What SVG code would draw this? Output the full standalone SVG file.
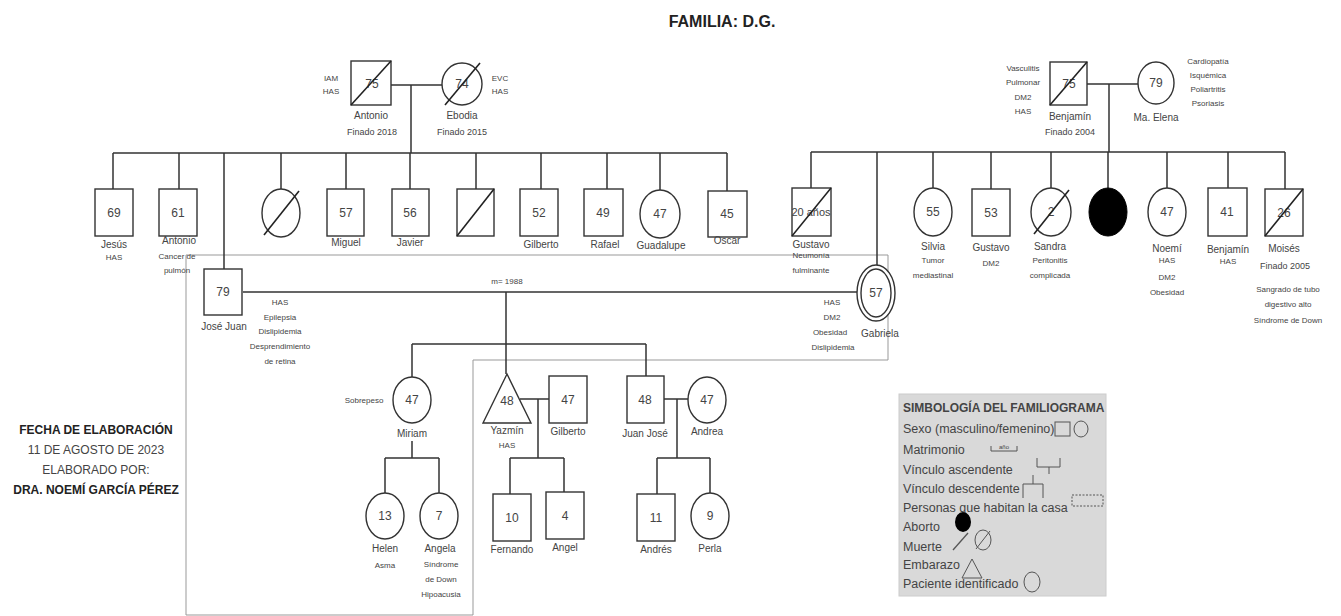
<svg xmlns="http://www.w3.org/2000/svg" width="1341" height="616" viewBox="0 0 1341 616">
<style>
.s{fill:#fff;stroke:#333;stroke-width:1.4}
.d{stroke:#222;stroke-width:1.6;fill:none}
.c{stroke:#333;stroke-width:1.5;fill:none}
.h{stroke:#999;stroke-width:1;fill:none}
text{font-family:"Liberation Sans Narrow","Liberation Sans",Arial,sans-serif;fill:#444;text-anchor:middle}
.n{font-size:12px}
.l{font-size:10px}
.x{font-size:8px}
.b{font-weight:bold;fill:#222}
.lg{font-size:12.5px;text-anchor:start;fill:#444}
</style>
<rect width="1341" height="616" fill="#fff"/>
<text x="722" y="27" class="b" style="font-size:16px">FAMILIA: D.G.</text>

<g id="household">
<path class="h" d="M186,255 H888 V360 H473 V615 H186 Z"/>
</g>

<g id="connectors">
<path class="c" d="M391,85 H442 M411,85 V153 M113,153 H727 M113,153 V189 M179,153 V189 M224,153 V270 M281,153 V189 M346,153 V189 M410,153 V189 M476,153 V189 M541,153 V189 M607,153 V189 M660,153 V190 M727,153 V191"/>
<path class="c" d="M1087,84 H1138 M1109,84 V152 M811,152 H1285 M811,152 V188 M877,152 V265 M933,152 V188 M991,152 V189 M1051,152 V188 M1108,152 V188 M1167,152 V188 M1228,152 V188 M1285,152 V189"/>
<path class="c" d="M243,292 H857 M506,292 V344 M412,344 H646 M412,344 V377 M506,344 V374 M646,344 V376"/>
<path class="c" d="M412,441 V458 M385,458 H439 M385,458 V493 M439,458 V493"/>
<path class="c" d="M520,399 H549 M538,399 V458 M510,458 H564 M510,458 V494 M564,458 V492"/>
<path class="c" d="M664,399 H688 M677,399 V458 M657,458 H710 M657,458 V494 M710,458 V493"/>
</g>

<g id="antonio-sr">
<rect class="s" x="351" y="61" width="40" height="44"/>
<text x="372" y="88" class="n">75</text>
<line class="d" x1="351" y1="105" x2="391" y2="61"/>
<text x="331" y="81" class="x">IAM</text><text x="331" y="94" class="x">HAS</text>
<text x="371" y="119" class="l">Antonio</text><text x="372" y="135" class="x" style="font-size:9px">Finado 2018</text>
</g>
<g id="ebodia">
<ellipse class="s" cx="462" cy="84" rx="20" ry="21"/>
<text x="462" y="88" class="n">74</text>
<line class="d" x1="445" y1="105" x2="480" y2="63"/>
<text x="500" y="81" class="x">EVC</text><text x="500" y="94" class="x">HAS</text>
<text x="462" y="119" class="l">Ebodia</text><text x="462" y="135" class="x" style="font-size:9px">Finado 2015</text>
</g>

<g id="jesus"><rect class="s" x="95" y="189" width="38" height="47"/><text x="114" y="217" class="n">69</text><text x="114" y="248" class="l">Jesús</text><text x="114" y="260" class="x">HAS</text></g>
<g id="antonio"><rect class="s" x="159" y="189" width="38" height="47"/><text x="178" y="217" class="n">61</text><text x="179" y="244" class="l">Antonio</text><text x="177" y="259" class="x">Cancer de</text><text x="177" y="273" class="x">pulmón</text></g>
<g id="fallecida"><ellipse class="s" cx="281" cy="213" rx="19" ry="24"/><line class="d" x1="264" y1="235" x2="299" y2="191"/></g>
<g id="miguel"><rect class="s" x="327" y="189" width="37" height="47"/><text x="346" y="217" class="n">57</text><text x="346" y="246" class="l">Miguel</text></g>
<g id="javier"><rect class="s" x="392" y="189" width="37" height="47"/><text x="410" y="217" class="n">56</text><text x="410" y="246" class="l">Javier</text></g>
<g id="fallecido"><rect class="s" x="457" y="189" width="37" height="47"/><line class="d" x1="457" y1="236" x2="494" y2="189"/></g>
<g id="gilberto"><rect class="s" x="520" y="189" width="38" height="47"/><text x="539" y="217" class="n">52</text><text x="541" y="248" class="l">Gilberto</text></g>
<g id="rafael"><rect class="s" x="584" y="189" width="39" height="47"/><text x="603" y="217" class="n">49</text><text x="605" y="248" class="l">Rafael</text></g>
<g id="guadalupe"><ellipse class="s" cx="660" cy="214" rx="20" ry="24"/><text x="660" y="218" class="n">47</text><text x="661" y="249" class="l">Guadalupe</text></g>
<g id="oscar"><rect class="s" x="708" y="191" width="39" height="46"/><text x="727" y="218" class="n">45</text><text x="727" y="244" class="l">Oscar</text></g>

<g id="benjamin-sr">
<rect class="s" x="1050" y="62" width="37" height="43"/>
<text x="1069" y="88" class="n">75</text>
<line class="d" x1="1050" y1="105" x2="1087" y2="62"/>
<text x="1023" y="71" class="x">Vasculitis</text><text x="1023" y="85" class="x">Pulmonar</text><text x="1023" y="100" class="x">DM2</text><text x="1023" y="114" class="x">HAS</text>
<text x="1070" y="120" class="l">Benjamín</text><text x="1070" y="135" class="x" style="font-size:9px">Finado 2004</text>
</g>
<g id="ma-elena">
<ellipse class="s" cx="1156" cy="83" rx="18" ry="21"/>
<text x="1156" y="87" class="n">79</text>
<text x="1156" y="121" class="l">Ma. Elena</text>
<text x="1208" y="64" class="x">Cardiopatía</text><text x="1208" y="78" class="x">Isquémica</text><text x="1208" y="92" class="x">Poliartritis</text><text x="1208" y="106" class="x">Psoriasis</text>
</g>

<g id="gustavo-f"><rect class="s" x="792" y="188" width="39" height="48"/><text x="811" y="216" class="n" style="font-size:11px">20 años</text><line class="d" x1="792" y1="236" x2="831" y2="188"/><text x="811" y="248" class="l">Gustavo</text><text x="811" y="258" class="x">Neumonía</text><text x="811" y="273" class="x">fulminante</text></g>
<g id="silvia"><ellipse class="s" cx="933" cy="212" rx="19" ry="24"/><text x="933" y="216" class="n">55</text><text x="933" y="250" class="l">Silvia</text><text x="933" y="263" class="x">Tumor</text><text x="933" y="278" class="x">mediastinal</text></g>
<g id="gustavo"><rect class="s" x="972" y="189" width="38" height="47"/><text x="991" y="217" class="n">53</text><text x="991" y="251" class="l">Gustavo</text><text x="991" y="266" class="x">DM2</text></g>
<g id="sandra"><ellipse class="s" cx="1051" cy="212" rx="20" ry="24"/><text x="1051" y="216" class="n">2</text><line class="d" x1="1034" y1="234" x2="1069" y2="190"/><text x="1050" y="250" class="l">Sandra</text><text x="1050" y="263" class="x">Peritonitis</text><text x="1050" y="278" class="x">complicada</text></g>
<g id="aborto"><ellipse cx="1108" cy="212" rx="19" ry="24" fill="#000" stroke="#000"/></g>
<g id="noemi"><ellipse class="s" cx="1167" cy="212" rx="19" ry="24"/><text x="1167" y="216" class="n">47</text><text x="1167" y="252" class="l">Noemí</text><text x="1167" y="263" class="x">HAS</text><text x="1167" y="280" class="x">DM2</text><text x="1167" y="295" class="x">Obesidad</text></g>
<g id="benjamin"><rect class="s" x="1208" y="188" width="39" height="48"/><text x="1227" y="216" class="n">41</text><text x="1228" y="253" class="l">Benjamín</text><text x="1228" y="264" class="x">HAS</text></g>
<g id="moises"><rect class="s" x="1265" y="189" width="38" height="47"/><text x="1284" y="217" class="n">26</text><line class="d" x1="1265" y1="236" x2="1303" y2="189"/><text x="1284" y="252" class="l">Moisés</text><text x="1285" y="269" class="x" style="font-size:9px">Finado 2005</text><text x="1288" y="292" class="x">Sangrado de tubo</text><text x="1288" y="307" class="x">digestivo alto</text><text x="1288" y="323" class="x">Síndrome de Down</text></g>

<g id="jose-juan"><rect class="s" x="204" y="269" width="38" height="46"/><text x="223" y="296" class="n">79</text><text x="224" y="330" class="l">José Juan</text><text x="280" y="305" class="x">HAS</text><text x="280" y="320" class="x">Epilepsia</text><text x="280" y="334" class="x">Dislipidemia</text><text x="280" y="349" class="x">Desprendimiento</text><text x="280" y="364" class="x">de retina</text></g>
<text x="507" y="284" class="x">m= 1988</text>
<g id="gabriela"><ellipse class="s" cx="876" cy="293" rx="19" ry="28"/><ellipse class="s" cx="876" cy="293" rx="15" ry="24"/><text x="876" y="297" class="n">57</text><text x="880" y="337" class="l">Gabriela</text><text x="832" y="305" class="x">HAS</text><text x="832" y="320" class="x">DM2</text><text x="830" y="335" class="x">Obesidad</text><text x="833" y="350" class="x">Dislipidemia</text></g>

<g id="miriam"><ellipse class="s" cx="412" cy="400" rx="19" ry="23"/><text x="412" y="404" class="n">47</text><text x="364" y="403" class="x">Sobrepeso</text><text x="412" y="437" class="l">Miriam</text></g>
<g id="yazmin"><polygon class="s" points="507,374 531,423 483,423"/><text x="507" y="405" class="n">48</text><text x="507" y="434" class="l">Yazmín</text><text x="507" y="448" class="x">HAS</text></g>
<g id="gilberto-p"><rect class="s" x="549" y="376" width="38" height="47"/><text x="568" y="404" class="n">47</text><text x="568" y="435" class="l">Gilberto</text></g>
<g id="juan-jose"><rect class="s" x="627" y="376" width="37" height="47"/><text x="645" y="404" class="n">48</text><text x="645" y="437" class="l">Juan José</text></g>
<g id="andrea"><ellipse class="s" cx="707" cy="400" rx="19" ry="23"/><text x="707" y="404" class="n">47</text><text x="707" y="435" class="l">Andrea</text></g>

<g id="helen"><ellipse class="s" cx="385" cy="516" rx="19" ry="23"/><text x="385" y="520" class="n">13</text><text x="385" y="552" class="l">Helen</text><text x="385" y="568" class="x">Asma</text></g>
<g id="angela"><ellipse class="s" cx="439" cy="516" rx="19" ry="23"/><text x="439" y="520" class="n">7</text><text x="440" y="552" class="l">Angela</text><text x="441" y="567" class="x">Síndrome</text><text x="441" y="582" class="x">de Down</text><text x="441" y="597" class="x">Hipoacusia</text></g>
<g id="fernando"><rect class="s" x="493" y="494" width="38" height="47"/><text x="512" y="522" class="n">10</text><text x="512" y="553" class="l">Fernando</text></g>
<g id="angel"><rect class="s" x="546" y="492" width="38" height="47"/><text x="565" y="520" class="n">4</text><text x="565" y="551" class="l">Angel</text></g>
<g id="andres"><rect class="s" x="637" y="494" width="38" height="47"/><text x="656" y="522" class="n">11</text><text x="656" y="553" class="l">Andrés</text></g>
<g id="perla"><ellipse class="s" cx="710" cy="516" rx="19" ry="23"/><text x="710" y="520" class="n">9</text><text x="710" y="552" class="l">Perla</text></g>

<g id="fecha">
<text x="96" y="434" class="b" style="font-size:12px">FECHA DE ELABORACIÓN</text>
<text x="96" y="454" style="font-size:12px">11 DE AGOSTO DE 2023</text>
<text x="96" y="474" style="font-size:12px">ELABORADO POR:</text>
<text x="96" y="494" class="b" style="font-size:12px">DRA. NOEMÍ GARCÍA PÉREZ</text>
</g>

<g id="legend">
<rect x="899" y="394" width="207" height="202" fill="#d9d9d9" stroke="#ccc"/>
<text x="903" y="412" class="lg b" style="font-size:12px">SIMBOLOGÍA DEL FAMILIOGRAMA</text>
<text x="903" y="433" class="lg">Sexo (masculino/femenino)</text>
<rect x="1055" y="422" width="15" height="14" fill="none" stroke="#555"/>
<ellipse cx="1081" cy="429" rx="7" ry="8" fill="none" stroke="#555"/>
<text x="903" y="454" class="lg">Matrimonio</text>
<path d="M991,451 H1017 M991,446 V451 M1017,446 V451" stroke="#555" fill="none"/>
<text x="1004" y="449" style="font-size:6px">año</text>
<text x="903" y="474" class="lg">Vínculo ascendente</text>
<path d="M1037,458 V467 H1060 V458 M1049,467 V474" stroke="#555" fill="none"/>
<text x="903" y="493" class="lg">Vínculo descendente</text>
<path d="M1033,475 V484 M1023,498 V484 H1043 V498" stroke="#555" fill="none"/>
<text x="903" y="512" class="lg">Personas que habitan la casa</text>
<rect x="1072" y="495" width="31" height="11" fill="none" stroke="#555" stroke-dasharray="2,1.5"/>
<text x="903" y="531" class="lg">Aborto</text>
<ellipse cx="963" cy="522" rx="8" ry="10" fill="#000"/>
<text x="903" y="551" class="lg">Muerte</text>
<line x1="953" y1="550" x2="968" y2="533" stroke="#555" stroke-width="1.3"/>
<ellipse cx="983" cy="540" rx="8" ry="10" fill="none" stroke="#555"/>
<line x1="976" y1="549" x2="990" y2="531" stroke="#555"/>
<text x="903" y="569" class="lg">Embarazo</text>
<polygon points="972,559 982,578 962,578" fill="none" stroke="#555"/>
<text x="903" y="588" class="lg">Paciente identificado</text>
<ellipse cx="1032" cy="582" rx="8" ry="10" fill="none" stroke="#555"/>
</g>
</svg>
